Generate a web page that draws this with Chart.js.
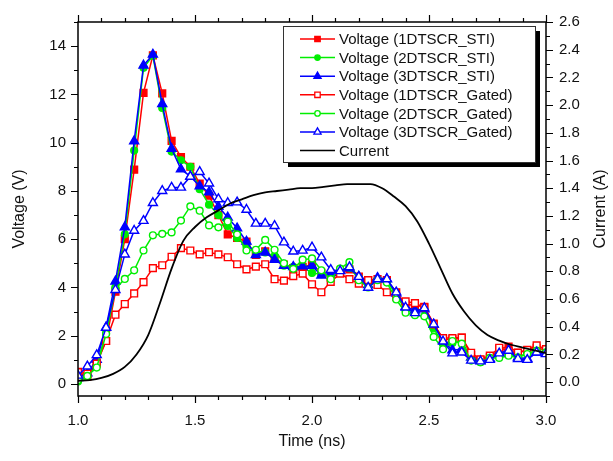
<!DOCTYPE html>
<html>
<head>
<meta charset="utf-8">
<script src="https://cdn.jsdelivr.net/npm/chart.js@4.4.1/dist/chart.umd.min.js"></script>
<style>
  html, body { margin: 0; padding: 0; background: #fff; }
  #wrap { width: 613px; height: 461px; }
</style>
</head>
<body>
<div id="wrap"><canvas id="chart" width="613" height="461"></canvas></div>
<script>
// sample times (ns) of the voltage traces
const times = [1.00, 1.04, 1.08, 1.12, 1.16, 1.20, 1.24, 1.28, 1.32, 1.36,
  1.40, 1.44, 1.48, 1.52, 1.56, 1.60, 1.64, 1.68, 1.72, 1.76,
  1.80, 1.84, 1.88, 1.92, 1.96, 2.00, 2.04, 2.08, 2.12, 2.16,
  2.20, 2.24, 2.28, 2.32, 2.36, 2.40, 2.44, 2.48, 2.52, 2.56,
  2.60, 2.64, 2.68, 2.72, 2.76, 2.80, 2.84, 2.88, 2.92, 2.96, 3.00];

const v1Sti = [0.5, 0.3, 0.9, 1.78, 3.82, 6.0, 8.88, 12.06, 13.62, 12.04,
  10.07, 9.4, 9.0, 8.3, 7.8, 7.0, 6.2, 6.05, 5.9, 5.35,
  5.5, 5.2, 4.95, 4.8, 4.85, 4.95, 4.6, 4.4, 4.6, 4.75,
  4.45, 4.3, 4.35, 4.3, 3.8, 3.3, 3.25, 3.2, 2.5, 1.85,
  1.85, 1.92, 1.2, 1.0, 1.1, 1.45, 1.55, 1.3, 1.4, 1.5, 1.4];

const v2Sti = [0.1, 0.3, 0.8, 2.1, 4.0, 6.2, 9.67, 13.1, 13.6, 11.44,
  9.63, 9.27, 9.0, 8.07, 7.43, 7.0, 6.55, 6.05, 5.7, 5.5,
  5.45, 5.3, 4.9, 4.85, 4.85, 4.6, 4.55, 4.5, 4.75, 4.8,
  4.4, 4.2, 4.3, 4.25, 3.7, 3.05, 3.0, 3.1, 2.3, 1.65,
  1.7, 1.8, 1.05, 0.9, 1.05, 1.3, 1.25, 1.15, 1.25, 1.35, 1.3];

const v3Sti = [0.25, 0.45, 1.0, 2.35, 4.25, 6.5, 10.06, 13.2, 13.65, 11.6,
  9.75, 8.9, 8.6, 8.2, 7.95, 7.35, 6.9, 6.45, 5.9, 5.35,
  5.45, 5.15, 4.9, 4.85, 4.85, 4.9, 4.5, 4.6, 4.7, 4.8,
  4.45, 4.1, 4.4, 4.35, 3.75, 3.2, 3.05, 3.1, 2.45, 1.8,
  1.4, 1.45, 1.1, 0.95, 1.05, 1.3, 1.4, 1.1, 1.05, 1.3, 1.25];

const v1Gated = [0.49, 0.42, 0.84, 1.78, 2.87, 3.31, 3.75, 4.22, 4.8, 4.92,
  5.27, 5.63, 5.53, 5.37, 5.46, 5.37, 5.25, 4.96, 4.75, 4.86,
  4.96, 4.34, 4.28, 4.47, 4.57, 4.13, 3.8, 4.23, 4.57, 4.34,
  4.16, 4.3, 4.1, 3.8, 3.62, 3.42, 3.35, 3.17, 2.47, 1.9,
  1.9, 1.92, 1.29, 1.02, 1.17, 1.5, 1.37, 1.29, 1.41, 1.6, 1.44];

const v2Gated = [0.15, 0.33, 0.68, 2.07, 3.95, 4.35, 4.71, 5.53, 6.16, 6.22,
  6.28, 6.77, 7.36, 7.18, 6.57, 6.49, 6.73, 6.2, 5.53, 5.56,
  5.97, 5.56, 5.0, 4.77, 5.15, 5.2, 4.71, 4.34, 4.78, 5.05,
  4.3, 4.0, 4.3, 4.2, 3.5, 2.95, 2.85, 2.8, 1.95, 1.44,
  1.78, 1.67, 0.97, 0.9, 1.08, 1.08, 1.17, 1.1, 1.24, 1.38, 1.31];

const v3Gated = [0.35, 0.73, 1.2, 2.33, 3.9, 5.37, 6.35, 6.76, 7.5, 8.0,
  8.14, 8.14, 8.59, 8.79, 8.31, 7.66, 7.5, 7.53, 7.22, 6.65,
  6.65, 6.55, 5.87, 5.49, 5.53, 5.66, 5.25, 4.73, 4.68, 4.84,
  4.44, 3.99, 4.34, 4.34, 3.8, 3.17, 2.94, 3.14, 2.47, 1.76,
  1.27, 1.31, 0.97, 0.94, 1.0, 1.27, 1.38, 1.04, 1.0, 1.31, 1.24];

// current trace (right axis)
const currentTimes = [1.00, 1.05, 1.10, 1.15, 1.20, 1.25, 1.30, 1.35, 1.40, 1.45,
  1.50, 1.55, 1.60, 1.65, 1.70, 1.75, 1.80, 1.85, 1.90, 1.95,
  2.00, 2.05, 2.10, 2.15, 2.20, 2.25, 2.30, 2.35, 2.40, 2.45,
  2.50, 2.55, 2.60, 2.65, 2.70, 2.75, 2.80, 2.85, 2.90, 2.95, 3.00];
const current = [0.01, 0.015, 0.03, 0.06, 0.11, 0.2, 0.34, 0.57, 0.82, 1.02,
  1.12, 1.19, 1.24, 1.29, 1.32, 1.35, 1.37, 1.38, 1.39, 1.4,
  1.4, 1.41, 1.42, 1.43, 1.43, 1.43, 1.4, 1.34, 1.27, 1.16,
  1.0, 0.82, 0.64, 0.51, 0.41, 0.34, 0.3, 0.27, 0.25, 0.23, 0.21];

const xTicks = [1.0, 1.5, 2.0, 2.5, 3.0];
const voltTicks = [0, 2, 4, 6, 8, 10, 12, 14];
const currTicks = [0.0, 0.2, 0.4, 0.6, 0.8, 1.0, 1.2, 1.4, 1.6, 1.8, 2.0, 2.2, 2.4, 2.6];

const labels = ['Voltage (1DTSCR_STI)', 'Voltage (2DTSCR_STI)', 'Voltage (3DTSCR_STI)',
  'Voltage (1DTSCR_Gated)', 'Voltage (2DTSCR_Gated)', 'Voltage (3DTSCR_Gated)', 'Current'];

const RED = '#ff0000', GREEN = '#00ee00', BLUE = '#0000ff';
const FONT = "'Liberation Sans', Arial, sans-serif";

Chart.defaults.font.family = FONT;
Chart.defaults.color = '#111';

function pts(xs, ys) {
  return xs.map((x, i) => ({ x, y: ys[i] }));
}

function radiusFor(style) {
  if (style === 'rect') return 4.8;
  if (style === 'triangle') return 5.2;
  return 3.4;
}

function voltSet(i, values, color, style, hollow) {
  return {
    label: labels[i],
    data: pts(times, values),
    yAxisID: 'y',
    borderColor: color,
    backgroundColor: color,
    borderWidth: 1.5,
    pointStyle: style,
    pointRadius: radiusFor(style),
    pointBorderWidth: 1.4,
    pointBorderColor: color,
    pointBackgroundColor: hollow ? '#fff' : color,
    tension: 0,
    order: 10 - i,
  };
}

const datasets = [
  voltSet(0, v1Sti, RED, 'rect', false),
  voltSet(1, v2Sti, GREEN, 'circle', false),
  voltSet(2, v3Sti, BLUE, 'triangle', false),
  voltSet(3, v1Gated, RED, 'rect', true),
  voltSet(4, v2Gated, GREEN, 'circle', true),
  voltSet(5, v3Gated, BLUE, 'triangle', true),
  {
    label: labels[6],
    data: pts(currentTimes, current),
    yAxisID: 'y1',
    borderColor: '#000',
    backgroundColor: '#000',
    borderWidth: 1.8,
    pointRadius: 0,
    pointStyle: false,
    cubicInterpolationMode: 'monotone',
    order: 1,
  },
];

// frame, minor/major ticks, right title and the boxed legend
const decor = {
  id: 'decor',
  afterDraw(chart) {
    const { ctx, chartArea: a, scales } = chart;
    ctx.save();
    ctx.strokeStyle = '#000';
    ctx.lineWidth = 1.5;
    ctx.strokeRect(a.left, a.top, a.right - a.left, a.bottom - a.top);

    ctx.lineWidth = 1.2;
    ctx.beginPath();
    for (let j = 0; j <= 20; j++) {
      const px = Math.round(scales.x.getPixelForValue(1 + j * 0.1)) + 0.5;
      const len = j % 5 === 0 ? 7 : 4;
      ctx.moveTo(px, a.bottom); ctx.lineTo(px, a.bottom + len);
      ctx.moveTo(px, a.top); ctx.lineTo(px, a.top - len);
    }
    for (let v = 0; v <= 15; v++) {
      const py = Math.round(scales.y.getPixelForValue(v)) + 0.5;
      const len = v % 2 === 0 ? 7 : 4;
      ctx.moveTo(a.left, py); ctx.lineTo(a.left - len, py);
    }
    for (let j = -1; j <= 26; j++) {
      const py = Math.round(scales.y1.getPixelForValue(j * 0.1)) + 0.5;
      const len = (j % 2 === 0) ? 7 : 4;
      ctx.moveTo(a.right, py); ctx.lineTo(a.right + len, py);
    }
    ctx.stroke();

    // right axis title
    ctx.fillStyle = '#111';
    ctx.font = '16px ' + FONT;
    ctx.textAlign = 'center';
    ctx.textBaseline = 'middle';
    ctx.translate(601, (a.top + a.bottom) / 2);
    ctx.rotate(-Math.PI / 2);
    ctx.fillText('Current (A)', 0, 0);
    ctx.restore();

    // legend
    ctx.save();
    const bx = 283, by = 26, bw = 252, bh = 136;
    ctx.fillStyle = '#000';
    ctx.fillRect(bx + 5, by + 5, bw, bh);
    ctx.fillStyle = '#fff';
    ctx.fillRect(bx, by, bw, bh);
    ctx.strokeStyle = '#333';
    ctx.lineWidth = 1;
    ctx.strokeRect(bx + 0.5, by + 0.5, bw, bh);
    ctx.font = '15px ' + FONT;
    ctx.textAlign = 'left';
    ctx.textBaseline = 'middle';
    chart.data.datasets.forEach((ds, i) => {
      const y = by + 13 + i * 18.6;
      ctx.strokeStyle = ds.borderColor;
      ctx.lineWidth = 1.5;
      ctx.beginPath();
      ctx.moveTo(300, y); ctx.lineTo(335, y);
      ctx.stroke();
      if (ds.pointStyle) {
        ctx.fillStyle = ds.pointBackgroundColor;
        ctx.strokeStyle = ds.pointBorderColor;
        ctx.lineWidth = 1.3;
        Chart.helpers.drawPoint(ctx, {
          pointStyle: ds.pointStyle,
          radius: ds.pointRadius * 0.8,
          rotation: 0,
          borderWidth: 1.3,
        }, 317.5, y);
      }
      ctx.fillStyle = '#111';
      ctx.fillText(ds.label, 339, y + 1);
    });
    ctx.restore();
  },
};

new Chart(document.getElementById('chart'), {
  type: 'line',
  data: { datasets },
  plugins: [decor],
  options: {
    responsive: false,
    animation: false,
    devicePixelRatio: 1,
    layout: { padding: { top: 16, left: 0, right: 0, bottom: 0 } },
    plugins: { legend: { display: false }, tooltip: { enabled: false } },
    scales: {
      x: {
        type: 'linear',
        min: 1,
        max: 3,
        afterFit: s => { s.height = 65; },
        afterBuildTicks: s => { s.ticks = xTicks.map(v => ({ value: v })); },
        grid: { display: false, drawTicks: false },
        border: { display: false },
        ticks: {
          padding: 16,
          font: { size: 15 },
          maxRotation: 0,
          autoSkip: false,
          callback: v => Number(v).toFixed(1),
        },
        title: {
          display: true,
          text: 'Time (ns)',
          font: { size: 16 },
          padding: { top: 0, bottom: 10 },
        },
      },
      y: {
        type: 'linear',
        position: 'left',
        min: -0.5,
        max: 15,
        afterFit: s => { s.width = 78; },
        afterBuildTicks: s => { s.ticks = voltTicks.map(v => ({ value: v })); },
        grid: { display: false, drawTicks: false },
        border: { display: false },
        ticks: { padding: 12, font: { size: 15 }, autoSkip: false, callback: v => String(v) },
        title: {
          display: true,
          text: 'Voltage (V)',
          font: { size: 16 },
          padding: { top: 10, bottom: 0 },
        },
      },
      y1: {
        type: 'linear',
        position: 'right',
        min: -0.1,
        max: 2.6,
        afterFit: s => { s.width = 67; },
        afterBuildTicks: s => { s.ticks = currTicks.map(v => ({ value: v })); },
        grid: { display: false, drawTicks: false },
        border: { display: false },
        ticks: { padding: 13, font: { size: 15 }, autoSkip: false, callback: v => Number(v).toFixed(1) },
      },
    },
  },
});
</script>
</body>
</html>
